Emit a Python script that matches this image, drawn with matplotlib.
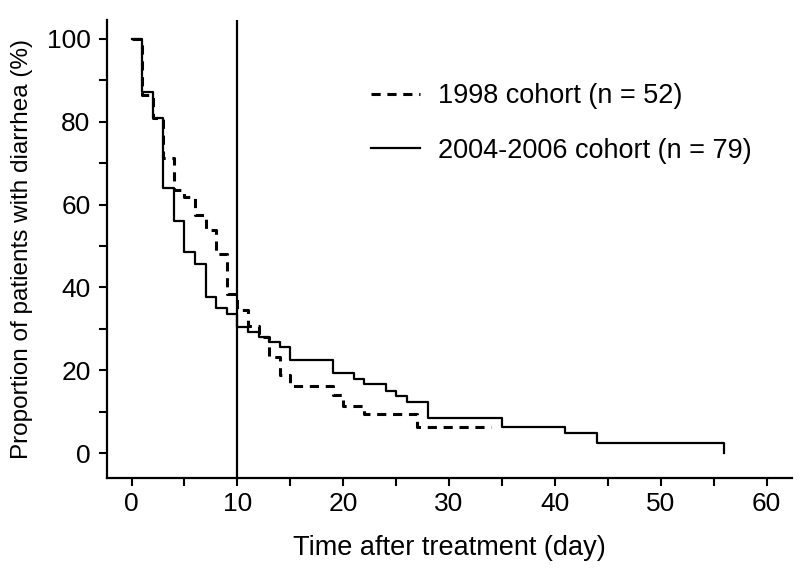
import matplotlib.pyplot as plt
from matplotlib.ticker import MultipleLocator

plt.rcParams["font.family"] = ["Liberation Sans", "DejaVu Sans"]

# Kaplan-Meier steps (day, % with diarrhea)
t_1998 = [0, 1, 2, 3, 4, 5, 6, 7, 8, 9, 10, 11, 12, 13, 14, 15, 19, 20, 22, 27, 34]
s_1998 = [100, 86.5, 80.8, 71.3, 63.5, 61.8, 57.5, 53.8, 48.1, 38.5, 34.6, 30.8,
          28.0, 23.1, 18.8, 16.2, 14.0, 11.4, 9.4, 6.3, 6.3]

t_2004 = [0, 1, 2, 3, 4, 5, 6, 7, 8, 9, 10, 11, 12, 13, 14, 15, 19, 21, 22, 24,
          25, 26, 28, 35, 41, 44, 56, 56]
s_2004 = [100, 87.3, 81.0, 63.9, 56.0, 48.6, 45.7, 37.8, 35.0, 33.5, 30.4, 29.2,
          28.0, 26.8, 25.6, 22.5, 19.3, 18.0, 16.7, 15.0, 13.7, 12.3, 8.5, 6.3,
          4.8, 2.4, 2.4, 0]

labels = ["1998 cohort (n = 52)", "2004-2006 cohort (n = 79)"]
cutoff_day = 10

fig = plt.figure(figsize=(8, 5.69), dpi=100)
ax = fig.add_axes([0.134, 0.16, 0.856, 0.805])

ax.step(t_1998, s_1998, where="post", color="black", linewidth=2.2,
        linestyle=(0, (3, 2.2)), label=labels[0])
ax.step(t_2004, s_2004, where="post", color="black", linewidth=1.6,
        label=labels[1])
ax.axvline(cutoff_day, color="black", linewidth=1.6)

ax.set_xlim(-2.3, 62.4)
ax.set_ylim(-6, 104.6)
ax.xaxis.set_major_locator(MultipleLocator(10))
ax.xaxis.set_minor_locator(MultipleLocator(5))
ax.yaxis.set_major_locator(MultipleLocator(20))
ax.yaxis.set_minor_locator(MultipleLocator(10))
ax.tick_params(which="both", direction="out", length=6, width=1.5,
               labelsize=19, color="black")
ax.tick_params(axis="x", pad=4)
ax.tick_params(axis="y", pad=6)

for side in ["top", "right"]:
    ax.spines[side].set_visible(False)
for side in ["left", "bottom"]:
    ax.spines[side].set_linewidth(1.6)

ax.set_xlabel("Time after treatment (day)", fontsize=19.5, labelpad=14)
ax.set_ylabel("Proportion of patients with diarrhea (%)", fontsize=17.5, labelpad=10)

ax.legend(loc="upper left", bbox_to_anchor=(0.35, 0.915), frameon=False,
          fontsize=19.5, handlelength=1.8, labelspacing=1.05, handletextpad=0.65)

plt.savefig("out.png", dpi=100)
plt.close()
